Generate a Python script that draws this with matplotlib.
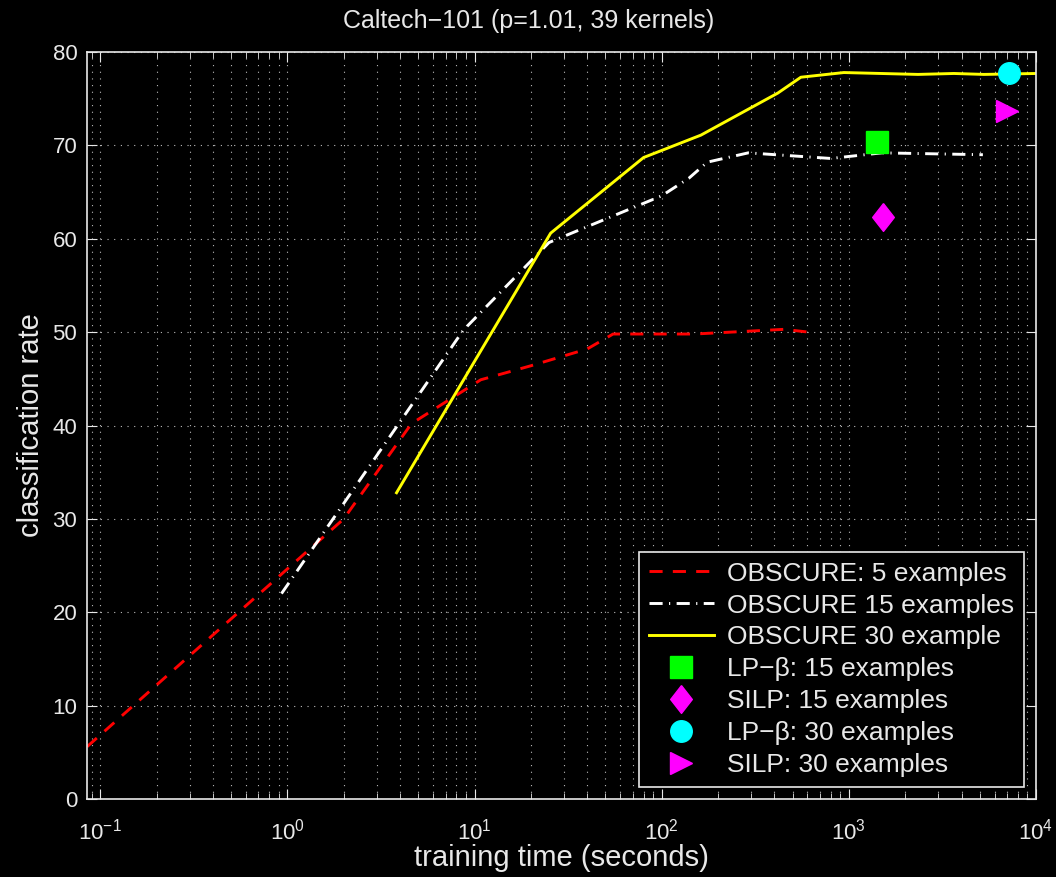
import numpy as np
import matplotlib
matplotlib.use("Agg")
import matplotlib.pyplot as plt
from matplotlib.ticker import LogLocator, FixedLocator

plt.rcParams["font.family"] = ["Liberation Sans", "DejaVu Sans"]

# OBSCURE curves (training time in seconds, classification rate)
obscure5_time = [0.085, 2.0, 4.6, 10.8, 20, 40, 55, 150, 450, 610]
obscure5_rate = [5.6, 30.0, 40.2, 44.9, 46.4, 48.2, 49.8, 49.8, 50.3, 50.0]

obscure15_time = [0.93, 8.7, 25, 100, 140, 175, 290, 800, 1500, 5200]
obscure15_rate = [22.0, 50.2, 59.6, 64.6, 66.5, 68.2, 69.2, 68.6, 69.2, 69.0]

obscure30_time = [3.83, 25.5, 80, 162, 417, 554, 940, 2340, 3640, 5270, 10000]
obscure30_rate = [32.8, 60.6, 68.7, 71.1, 75.6, 77.3, 77.8, 77.6, 77.7, 77.6, 77.7]

# single-point baselines
lpb15_time, lpb15_rate = [1420], [70.4]
silp15_time, silp15_rate = [1530], [62.3]
lpb30_time, lpb30_rate = [7200], [77.8]
silp30_time, silp30_rate = [7000], [73.7]

FG = "#e8e8e8"

fig = plt.figure(figsize=(10.56, 8.77), dpi=100, facecolor="black")
ax = fig.add_axes([0.0824, 0.0889, 0.8987, 0.8518], facecolor="black")

lw = 2.1
ax.plot(obscure5_time, obscure5_rate, color="#ff0000", lw=lw,
        dashes=(4.5, 3.5), label="OBSCURE: 5 examples")
ax.plot(obscure15_time, obscure15_rate, color="white", lw=lw,
        dashes=(4.5, 2.2, 0.4, 2.2), label="OBSCURE 15 examples")
ax.plot(obscure30_time, obscure30_rate, color="#ffff00", lw=lw,
        label="OBSCURE 30 example")

diamond = [(0, 1), (0.78, 0), (0, -1), (-0.78, 0), (0, 1)]
ax.plot(lpb15_time, lpb15_rate, ls="none", marker="s", ms=15.5,
        color="#00ff00", label="LP\u2212\u03b2: 15 examples")
ax.plot(silp15_time, silp15_rate, ls="none", marker=diamond, ms=20,
        color="#ff00ff", label="SILP: 15 examples")
ax.plot(lpb30_time, lpb30_rate, ls="none", marker="o", ms=15.5,
        color="#00ffff", label="LP\u2212\u03b2: 30 examples")
ax.plot(silp30_time, silp30_rate, ls="none", marker=">", ms=16.5,
        color="#ff00ff", label="SILP: 30 examples")

ax.set_xscale("log")
ax.set_xlim(0.085, 1e4)
ax.set_ylim(0, 80)
ax.yaxis.set_major_locator(FixedLocator(np.arange(0, 81, 10)))
ax.xaxis.set_major_locator(LogLocator(base=10, numticks=10))
ax.xaxis.set_minor_locator(LogLocator(base=10, subs=np.arange(2, 10), numticks=20))

ax.grid(True, which="major", axis="both", color="#bbbbbb", ls=(0, (1, 5)), lw=0.8)
ax.grid(True, which="minor", axis="x", color="#bbbbbb", ls=(0, (1, 5)), lw=0.8)

for s in ax.spines.values():
    s.set_color(FG)
    s.set_linewidth(1.2)
ax.tick_params(which="both", direction="in", top=True, right=True,
               colors=FG, labelsize=16)
ax.tick_params(which="major", length=7)
ax.tick_params(which="minor", length=4)
ax.tick_params(axis="x", which="major", pad=14)
ax.tick_params(axis="y", which="major", pad=7)

ax.set_title("Caltech\u2212101 (p=1.01, 39 kernels)", color=FG, fontsize=18,
             pad=17, x=0.465)
ax.set_xlabel("training time (seconds)", color=FG, fontsize=21, labelpad=0)
ax.set_ylabel("classification rate", color=FG, fontsize=21, labelpad=5)

leg = ax.legend(loc="lower right", fontsize=19, handlelength=2.46,
                labelspacing=0.3, borderaxespad=0.45, fancybox=False,
                facecolor="black", edgecolor=FG, framealpha=1,
                borderpad=0.38, handletextpad=0.5)
leg.get_frame().set_linewidth(1.2)
for t in leg.get_texts():
    t.set_color(FG)

fig.savefig("out.png", dpi=100, facecolor="black")
